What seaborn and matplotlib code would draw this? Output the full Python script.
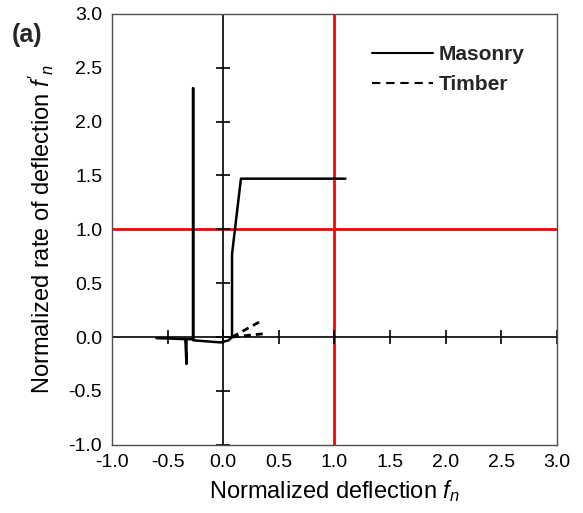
import pandas as pd
import numpy as np
import matplotlib
matplotlib.use('Agg')
import matplotlib.pyplot as plt
import seaborn as sns
from matplotlib.lines import Line2D

# Masonry trace (normalized deflection vs normalized rate of deflection)
masonry_x = [-0.60, -0.45, -0.34, -0.33, -0.33, -0.27, -0.27, -0.27, -0.15, -0.02, 0.05, 0.08, 0.08, 0.16, 1.10]
masonry_y = [-0.01, -0.015, -0.02, -0.25, -0.02, -0.02, 2.31, -0.03, -0.04, -0.05, -0.03, 0.00, 0.77, 1.47, 1.47]

# Timber traces (two branches)
timber_seg = [0, 0, 1, 1]
timber_x = [0.08, 0.36, 0.08, 0.36]
timber_y = [0.00, 0.16, 0.00, 0.03]

limit_value = 1.0
tick_vals = [-1.0, -0.5, 0.0, 0.5, 1.0, 1.5, 2.0, 2.5, 3.0]

sns.set_theme(style='white')
plt.rcParams['font.family'] = ['Liberation Sans', 'DejaVu Sans']
plt.rcParams['mathtext.fontset'] = 'custom'
plt.rcParams['mathtext.it'] = 'Liberation Sans:italic'
plt.rcParams['mathtext.rm'] = 'Liberation Sans'

fig = plt.figure(figsize=(5.83, 5.13), dpi=100)
ax = fig.add_axes([0.192, 0.133, 0.763, 0.840])

mas_df = pd.DataFrame({'x': masonry_x, 'y': masonry_y, 'seg': 0})
tim_df = pd.DataFrame({'x': timber_x, 'y': timber_y, 'seg': timber_seg})

# red limit lines
ax.axvline(limit_value, color='#ff0000', lw=2, zorder=1)
ax.axhline(limit_value, color='#ff0000', lw=2, zorder=1)

# axes through origin with cross ticks
ax.axhline(0, color='black', lw=1.2, zorder=2)
ax.axvline(0, color='black', lw=1.2, zorder=2)
ax.plot(tick_vals, np.zeros(len(tick_vals)), ls='none', marker='|', ms=10, mew=1.2, color='black', zorder=2)
ax.plot(np.zeros(len(tick_vals)), tick_vals, ls='none', marker='_', ms=10, mew=1.2, color='black', zorder=2)

sns.lineplot(data=mas_df, x='x', y='y', units='seg', estimator=None, sort=False,
             color='black', lw=1.8, ax=ax, zorder=3)
sns.lineplot(data=tim_df, x='x', y='y', units='seg', estimator=None, sort=False,
             color='black', lw=2, ls=(0, (2.5, 1.8)), ax=ax, zorder=3)

ax.set_xlim(-1, 3)
ax.set_ylim(-1, 3)
ax.set_xticks(tick_vals)
ax.set_yticks(tick_vals)
ax.set_xticklabels([f'{v:.1f}' for v in tick_vals])
ax.set_yticklabels([f'{v:.1f}' for v in tick_vals])
ax.tick_params(length=0, labelsize=14, colors='black')
ax.tick_params(axis='x', pad=7)
ax.tick_params(axis='y', pad=7)
for sp in ax.spines.values():
    sp.set_color('#505050')
    sp.set_linewidth(1.0)

ax.set_xlabel('Normalized deflection $f_n$', fontsize=17, labelpad=5, color='black')
ax.set_ylabel("Normalized rate of deflection $f'_n$", fontsize=17, labelpad=9, color='black')

handles = [Line2D([], [], color='black', lw=1.5),
           Line2D([], [], color='black', lw=1.5, ls=(0, (4, 2.8)))]
ax.legend(handles, ['Masonry', 'Timber'], loc='upper left', bbox_to_anchor=(0.562, 0.952),
          frameon=False, borderpad=0, handlelength=2.9, handletextpad=0.3, labelspacing=0.55,
          prop={'weight': 'bold', 'size': 15})

fig.text(0.02, 0.918, '(a)', fontsize=18, fontweight='bold')

fig.savefig('out.png', dpi=100)
